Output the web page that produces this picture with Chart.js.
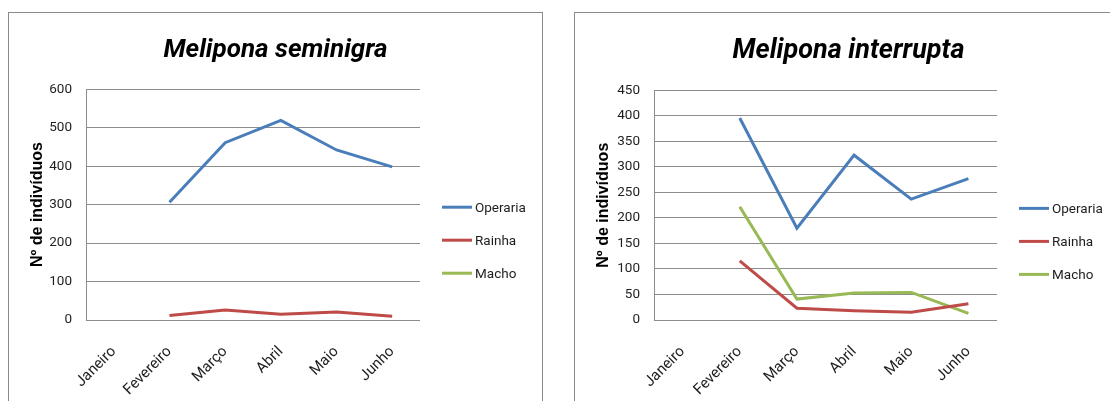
<!DOCTYPE html>
<html>
<head>
<meta charset="utf-8">
<script src="https://cdn.jsdelivr.net/npm/chart.js@4.4.1/dist/chart.umd.min.js"></script>
<style>
  html, body { margin: 0; padding: 0; background: #fff; overflow: hidden; width: 1110px; height: 401px; }
  .frame { position: absolute; box-sizing: border-box; border: 1px solid #8a8a8a; background: #fff; }
  canvas { position: absolute; }
</style>
</head>
<body>
<div class="frame" style="left:8px; top:12px; width:535px; height:420px;"></div>
<div class="frame" style="left:574px; top:12px; width:600px; height:420px;"></div>
<canvas id="seminigra" width="533" height="388" style="left:9px; top:13px;"></canvas>
<canvas id="interrupta" width="547" height="388" style="left:575px; top:13px;"></canvas>
<script>
// Monthly counts of individuals per caste
const months = ['Janeiro', 'Fevereiro', 'Março', 'Abril', 'Maio', 'Junho'];
const seriesNames = ['Operaria', 'Rainha', 'Macho'];

const seminigraOperaria = [null, 306, 461, 519, 442, 398];
const seminigraRainha   = [null, 12, 26, 15, 21, 10];
const seminigraMacho    = [null, null, null, null, null, null];

const interruptaOperaria = [null, 396, 180, 323, 237, 277];
const interruptaRainha   = [null, 116, 23, 18, 15, 32];
const interruptaMacho    = [null, 222, 41, 53, 54, 13];

const seminigraAxis  = { max: 600, step: 100 };
const interruptaAxis = { max: 450, step: 50 };

const colors = ['#4a7ebb', '#be4b48', '#98b954'];
const textFont = "Roboto, 'Open Sans', sans-serif";
const textColor = '#1e1e1e';

// Line-sample legend placed to the right of the plot area
const sideLegend = {
  id: 'sideLegend',
  afterDraw(chart) {
    const { ctx, chartArea } = chart;
    ctx.save();
    chart.data.datasets.forEach((ds, i) => {
      const y = chartArea.top + 118 + i * 33;
      const x0 = chartArea.right + 22;
      ctx.strokeStyle = ds.borderColor;
      ctx.lineWidth = 3;
      ctx.beginPath();
      ctx.moveTo(x0, y);
      ctx.lineTo(x0 + 30, y);
      ctx.stroke();
      ctx.fillStyle = textColor;
      ctx.font = '13.5px ' + textFont;
      ctx.textBaseline = 'middle';
      ctx.textAlign = 'left';
      ctx.fillText(ds.label, x0 + 33, y + 1);
    });
    ctx.restore();
  }
};

function buildChart(id, title, series, axis, yWidth, legendSpace, titleSize) {
  return new Chart(document.getElementById(id), {
    type: 'line',
    data: {
      labels: months,
      datasets: series.map((values, i) => ({
        label: seriesNames[i],
        data: values,
        borderColor: colors[i],
        backgroundColor: colors[i],
        borderWidth: 3,
        pointRadius: 0,
        tension: 0,
        spanGaps: false,
        yAxisID: 'y'
      }))
    },
    options: {
      responsive: false,
      animation: false,
      devicePixelRatio: 1,
      layout: { padding: 0 },
      plugins: {
        legend: { display: false },
        tooltip: { enabled: false },
        title: {
          display: true,
          text: title,
          color: '#000',
          font: { family: textFont, size: titleSize, weight: 'bold', style: 'italic' },
          padding: { top: 22, bottom: 23 }
        }
      },
      scales: {
        x: {
          offset: true,
          grid: { display: false },
          border: { display: false },
          ticks: {
            color: textColor,
            font: { family: textFont, size: 15 },
            minRotation: 45,
            maxRotation: 45,
            autoSkip: false,
            padding: 15
          },
          afterFit(scale) { scale.height = 81; }
        },
        y: {
          min: 0,
          max: axis.max,
          grid: { color: '#8c8c8c', lineWidth: 1, drawTicks: false },
          border: { display: true, color: '#8c8c8c', width: 1 },
          ticks: {
            stepSize: axis.step,
            color: textColor,
            font: { family: textFont, size: 13.5 },
            padding: 14
          },
          title: {
            display: true,
            text: 'Nº de indivíduos',
            color: '#000',
            font: { family: "'Liberation Sans', Arial, sans-serif", size: 16, weight: 'bold' },
            padding: { top: 18.5, bottom: 0 }
          },
          afterFit(scale) { scale.width = yWidth; }
        },
        // empty right-hand band that holds the legend
        legendBand: {
          position: 'right',
          display: true,
          grid: { display: false, drawOnChartArea: false },
          border: { display: false },
          ticks: { display: false },
          afterFit(scale) { scale.width = legendSpace; }
        }
      }
    },
    plugins: [sideLegend]
  });
}

buildChart('seminigra', 'Melipona seminigra',
  [seminigraOperaria, seminigraRainha, seminigraMacho], seminigraAxis, 77, 122, 26);
buildChart('interrupta', 'Melipona interrupta',
  [interruptaOperaria, interruptaRainha, interruptaMacho], interruptaAxis, 79, 125, 27);
</script>
</body>
</html>
